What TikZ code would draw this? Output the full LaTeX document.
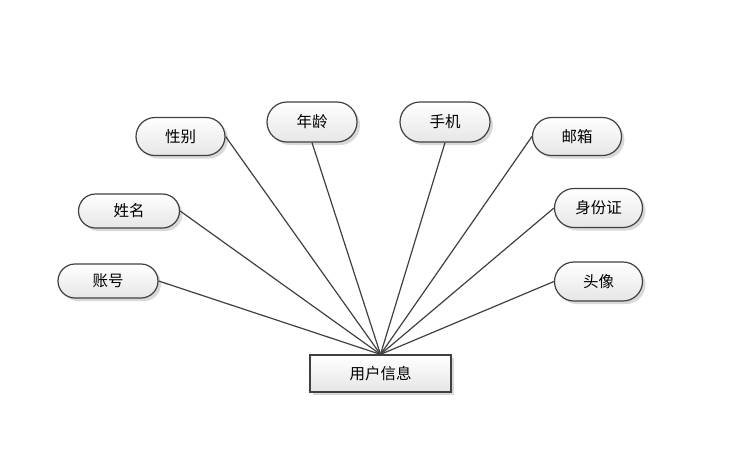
\documentclass[tikz,border=0pt]{standalone}
\usepackage{fontspec}
\setmainfont{Noto Sans CJK SC}
\usetikzlibrary{shadows,shapes.misc}
\definecolor{edgegray}{HTML}{404040}
\definecolor{fillbot}{HTML}{E6E6E6}
\tikzset{
  attr/.style={rounded rectangle, draw=edgegray, line width=1.2pt,
    top color=white, bottom color=fillbot, minimum width=#1, minimum height=38pt,
    inner sep=0pt, font=\fontsize{15.5}{17}\selectfont,
    drop shadow={opacity=0.3, shadow xshift=3pt, shadow yshift=-3pt}},
  attr/.default=89pt,
  entity/.style={rectangle, draw=edgegray, line width=1.2pt,
    top color=white, bottom color=fillbot, minimum width=141pt, minimum height=37pt,
    inner sep=0pt, font=\fontsize{15.5}{17}\selectfont,
    drop shadow={opacity=0.3, shadow xshift=3pt, shadow yshift=-3pt}},
  link/.style={draw=edgegray, line width=1.2pt}
}
\begin{document}
\begin{tikzpicture}[x=1pt,y=-1pt]
\useasboundingbox (0,0) rectangle (743,451);
\node[entity] (user) at (380.5,373.5) {用户信息};
\node[attr=100pt, minimum height=34pt] (zh) at (108,281) {账号};
\node[attr=101pt, minimum height=34pt] (xm) at (129,211) {姓名};
\node[attr] (xb) at (180.5,136.5) {性别};
\node[attr=90pt, minimum height=40pt] (nl) at (312,122) {年龄};
\node[attr=90pt, minimum height=40pt] (sj) at (445,122) {手机};
\node[attr] (yx) at (577,136.5) {邮箱};
\node[attr=88pt, minimum height=39pt] (sfz) at (598.5,208) {身份证};
\node[attr=88pt, minimum height=39pt] (tx) at (598.5,281.5) {头像};
\draw[link] (zh.east) -- (user.north);
\draw[link] (xm.east) -- (user.north);
\draw[link] (xb.east) -- (user.north);
\draw[link] (nl.south) -- (user.north);
\draw[link] (sj.south) -- (user.north);
\draw[link] (yx.west) -- (user.north);
\draw[link] (sfz.west) -- (user.north);
\draw[link] (tx.west) -- (user.north);
\end{tikzpicture}
\end{document}
